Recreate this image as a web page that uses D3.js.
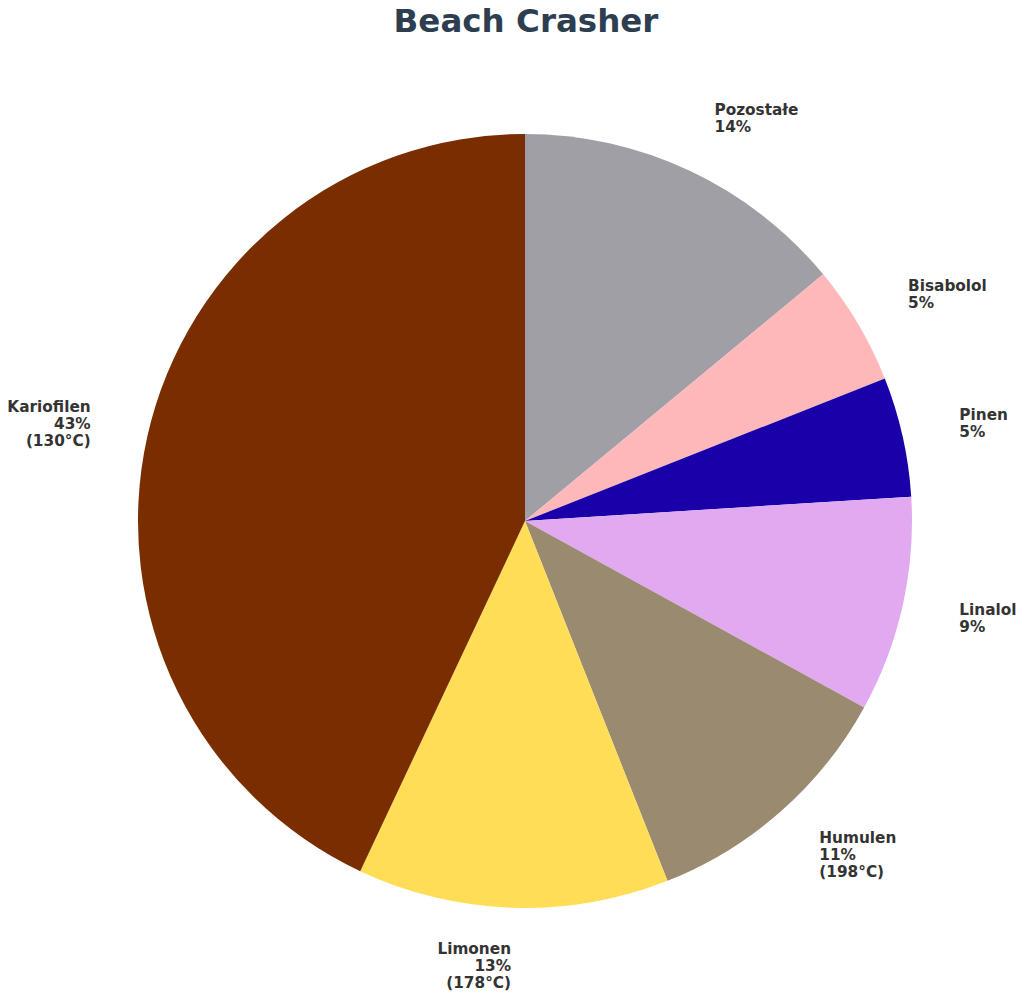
<!DOCTYPE html>
<html>
<head>
<meta charset="utf-8">
<script src="https://cdnjs.cloudflare.com/ajax/libs/d3/7.8.5/d3.min.js"></script>
<style>
  body { margin: 0; background: #fff; }
  text { font-family: "DejaVu Sans", sans-serif; }
</style>
</head>
<body>
<div id="chart"></div>
<script>
// terpene profile
var names = ["Pozostałe", "Bisabolol", "Pinen", "Linalol", "Humulen", "Limonen", "Kariofilen"];
var shares = [14, 5, 5, 9, 11, 13, 43];
var boiling = [null, null, null, null, "198°C", "178°C", "130°C"];
var colors = ["#a09fa5", "#ffb8b9", "#1a00a8", "#e1a9f0", "#9a8a70", "#ffdd57", "#7a2e00"];

var svgWidth = 1024;
var svgHeight = 998;
var cx = 525, cy = 521, radius = 387;

var svg = d3.select("#chart")
    .append("svg")
    .attr("width", svgWidth)
    .attr("height", svgHeight);

svg.append("text")
    .attr("x", 526)
    .attr("y", 32)
    .attr("text-anchor", "middle")
    .attr("font-size", "32.5px")
    .attr("font-weight", "bold")
    .attr("fill", "#2c3e50")
    .text("Beach Crasher");

var data = names.map(function(n, i) {
    return {name: n, value: shares[i], temp: boiling[i], color: colors[i]};
});

var pie = d3.pie()
    .sort(null)
    .value(d => d.value)
    .startAngle(0)
    .endAngle(2 * Math.PI);

var arc = d3.arc()
    .innerRadius(0)
    .outerRadius(radius);

var chartGroup = svg.append("g")
    .attr("transform", `translate(${cx}, ${cy})`);

var arcs = pie(data);

chartGroup.selectAll("path")
    .data(arcs)
    .enter()
    .append("path")
    .attr("d", arc)
    .attr("fill", d => d.data.color);

// labels sit a bit outside the rim
var labelR = radius * 1.15;
var lineH = 17;

var labels = chartGroup.selectAll("text.lbl")
    .data(arcs)
    .enter()
    .append("text")
    .attr("class", "lbl")
    .attr("font-size", "15.3px")
    .attr("font-weight", "bold")
    .attr("fill", "#333333")
    .attr("text-anchor", d => Math.sin((d.startAngle + d.endAngle) / 2) > 0 ? "start" : "end");

labels.each(function(d) {
    var mid = (d.startAngle + d.endAngle) / 2;
    var x = Math.sin(mid) * labelR;
    var y = -Math.cos(mid) * labelR;
    var lines = [d.data.name, d.data.value + "%"];
    if (d.data.temp) lines.push("(" + d.data.temp + ")");
    var top = y - (lines.length - 1) * lineH / 2;
    var t = d3.select(this);
    lines.forEach(function(s, i) {
        t.append("tspan")
            .attr("x", x)
            .attr("y", top + i * lineH)
            .attr("dominant-baseline", "central")
            .text(s);
    });
});
</script>
</body>
</html>
